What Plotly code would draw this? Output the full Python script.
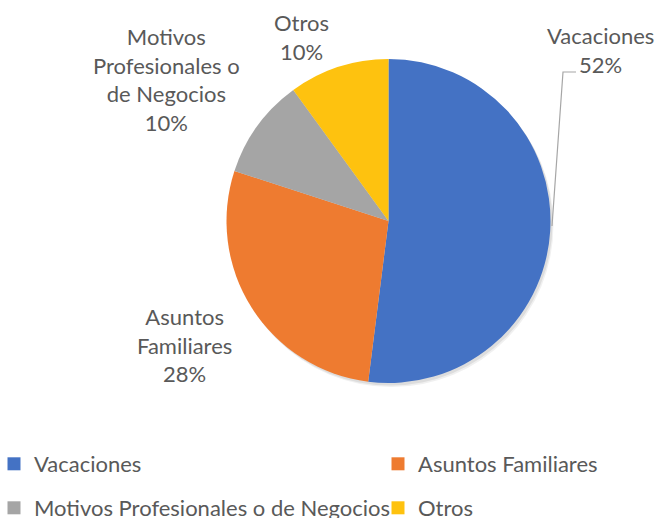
import plotly.graph_objects as go

# ---- data ----
categories = ["Vacaciones", "Asuntos Familiares", "Motivos Profesionales o de Negocios", "Otros"]
values = [52, 28, 10, 10]
label_lines = ["Vacaciones", "Asuntos<br>Familiares", "Motivos<br>Profesionales o<br>de Negocios", "Otros"]
colors = ["#4472C4", "#EE7B30", "#A5A5A5", "#FEC20F"]

W, H = 656, 518
FONT = "Lato"
TXT = "#595959"


def fx(x):
    return x / W


def fy(y):
    return 1 - y / H


fig = go.Figure()

# soft drop shadow under the pie (same total, one neutral slice)
for dx, dy, alpha in [(3, 4, 0.06), (2, 2.5, 0.08)]:
    fig.add_trace(go.Pie(
        labels=["sombra"], values=[sum(values)], sort=False,
        marker=dict(colors=[f"rgba(0,0,0,{alpha})"], line=dict(width=0)),
        textinfo="none", hoverinfo="skip", showlegend=False,
        domain=dict(x=[fx(225 + dx), fx(552 + dx)], y=[fy(383 + dy), fy(59 + dy)]),
    ))

fig.add_trace(go.Pie(
    labels=categories,
    values=values,
    sort=False,
    direction="clockwise",
    rotation=0,
    marker=dict(colors=colors, line=dict(width=0)),
    textinfo="none",
    hoverinfo="label+percent",
    showlegend=False,
    domain=dict(x=[fx(225), fx(552)], y=[fy(383), fy(59)]),
))

# legend entries (one legend per entry, laid out like the original two-column legend)
legend_names = ["legend", "legend2", "legend3", "legend4"]
legend_pos = [(-6, 464), (378, 464), (-6, 508), (378, 508)]
for cat, col, lg in zip(categories, colors, legend_names):
    fig.add_trace(go.Scatter(
        x=[None], y=[None], mode="markers", name=cat,
        marker=dict(symbol="square", size=13, color=col),
        legend=lg, showlegend=True, hoverinfo="skip",
    ))

total = sum(values)
label_pos = [(600, 50), (185, 345), (166, 79), (301, 37)]
annotations = []
for lines, v, (x, y) in zip(label_lines, values, label_pos):
    annotations.append(dict(
        text=f"{lines}<br>{round(100 * v / total)}%",
        x=fx(x), y=fy(y), xref="paper", yref="paper",
        xanchor="center", yanchor="middle", showarrow=False,
        font=dict(family=FONT, size=22, color=TXT), align="center",
    ))

shapes = [dict(
    type="path", xref="paper", yref="paper",
    path=f"M {fx(576)},{fy(72)} L {fx(563)},{fy(72)} L {fx(552)},{fy(226)}",
    line=dict(color="#A6A6A6", width=1.2),
)]

layout_legends = {}
for lg, (x, y) in zip(legend_names, legend_pos):
    layout_legends[lg] = dict(
        x=fx(x), y=fy(y), xanchor="left", yanchor="middle",
        orientation="h", bgcolor="rgba(0,0,0,0)", borderwidth=0,
        font=dict(family=FONT, size=22, color=TXT),
    )

fig.update_layout(
    width=W, height=H,
    margin=dict(l=0, r=0, t=0, b=0, autoexpand=False),
    paper_bgcolor="white", plot_bgcolor="white",
    xaxis=dict(visible=False), yaxis=dict(visible=False),
    annotations=annotations,
    shapes=shapes,
    **layout_legends,
)

fig.write_html(
    "out.html",
    config={"displayModeBar": False},
    post_script="document.body.style.margin='0px';document.body.style.overflow='hidden';",
)
